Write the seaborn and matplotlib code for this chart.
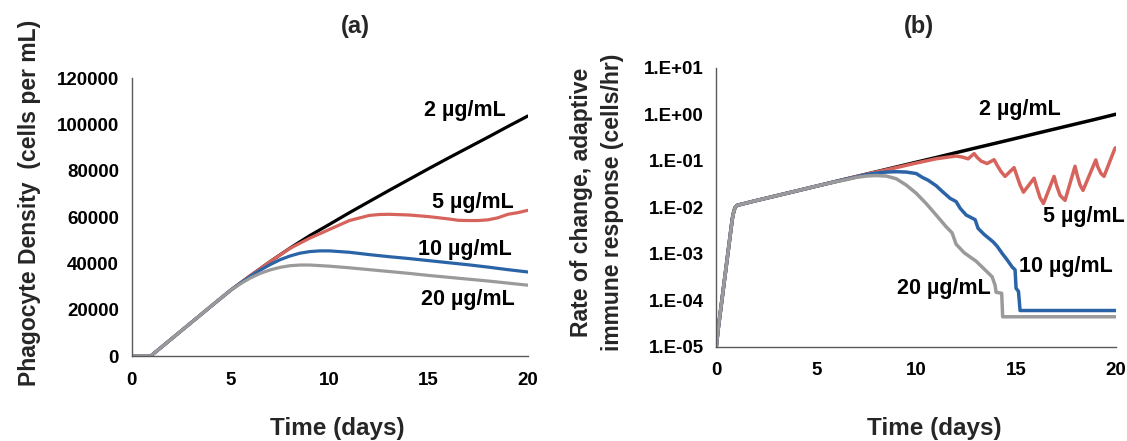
import matplotlib
matplotlib.use("Agg")
import matplotlib.pyplot as plt
from matplotlib.ticker import FixedLocator, FuncFormatter, NullLocator
import numpy as np
import pandas as pd
import seaborn as sns

# ---------------- data ----------------
concentrations = ["2 µg/mL", "5 µg/mL", "10 µg/mL", "20 µg/mL"]
line_colors = ["#000000", "#d6645d", "#2b64a6", "#9a9a9a"]

# (a) phagocyte density (cells per mL)
days_a_2 = [0, 0.95, 1, 2, 3, 4, 5, 6, 7, 8, 9, 10, 11, 12, 13, 14, 15, 16, 17, 18, 19, 20]
dens_a_2 = [0, 0, 350, 7400, 14450, 21500, 28500, 34800, 40900, 46700, 52100, 57000,
            62000, 66800, 71600, 76300, 81000, 85600, 90100, 94600, 99200, 103700]

days_a_5 = [0, 0.95, 1, 2, 3, 4, 5, 6, 7, 8, 9, 10, 11, 12, 12.5, 13, 14, 15, 16,
            16.5, 17, 17.5, 18, 18.5, 19, 19.5, 20]
dens_a_5 = [0, 0, 350, 7400, 14450, 21500, 28500, 34800, 40900, 46600, 51000, 54800,
            58600, 60800, 61200, 61300, 61000, 60300, 59300, 58700, 58600, 58600,
            58900, 59800, 61300, 62000, 63000]

days_a_10 = [0, 0.95, 1, 2, 3, 4, 5, 5.5, 6, 6.5, 7, 7.5, 8, 8.5, 9, 9.5, 10, 11, 12,
             13, 14, 15, 16, 17, 18, 19, 20]
dens_a_10 = [0, 0, 350, 7400, 14450, 21500, 28500, 31600, 34500, 37200, 39600, 41700,
             43300, 44500, 45200, 45500, 45500, 44900, 43900, 43000, 42200, 41300,
             40400, 39500, 38500, 37400, 36400]

days_a_20 = [0, 0.95, 1, 2, 3, 4, 5, 5.5, 6, 6.5, 7, 7.5, 8, 8.5, 9, 10, 11, 12, 13,
             14, 15, 16, 17, 18, 19, 20]
dens_a_20 = [0, 0, 350, 7400, 14450, 21500, 28500, 31300, 33800, 35800, 37300, 38400,
             39100, 39400, 39400, 38900, 38200, 37400, 36600, 35800, 34900, 34100,
             33300, 32500, 31600, 30700]

# (b) rate of change of the adaptive immune response (cells/hr)
days_b_2 = [0, 0.1, 0.8, 0.88, 0.95, 1.05, 2, 3, 4, 5, 6, 7, 8, 9, 10, 11, 12, 13,
            14, 15, 16, 17, 18, 19, 20]
rate_b_2 = [1.0e-5, 2.5e-5, 5.6e-3, 8.3e-3, 1.0e-2, 1.1e-2, 0.0139, 0.0176, 0.0223,
            0.0283, 0.0359, 0.0455, 0.0577, 0.0731, 0.0927, 0.117, 0.149, 0.189,
            0.239, 0.303, 0.385, 0.488, 0.618, 0.783, 1.0]

days_b_5 = [0, 0.1, 0.8, 0.88, 0.95, 1.05, 2, 3, 4, 5, 6, 7, 8, 9, 10, 11, 11.5, 12,
            12.3, 12.6, 12.9, 13.05, 13.25, 13.55, 13.9, 14.05, 14.25, 14.45, 14.9,
            15.02, 15.2, 15.37, 15.9, 16.02, 16.2, 16.37, 16.9, 17.02, 17.2, 17.45,
            17.95, 18.05, 18.2, 18.35, 18.99, 19.08, 19.25, 19.4, 19.95, 20]
rate_b_5 = [1.0e-5, 2.5e-5, 5.6e-3, 8.3e-3, 1.0e-2, 1.1e-2, 0.0139, 0.0176, 0.0223,
            0.0283, 0.0359, 0.0455, 0.0570, 0.071, 0.089, 0.110, 0.118, 0.126,
            0.120, 0.110, 0.142, 0.118, 0.098, 0.087, 0.105, 0.080, 0.058, 0.046,
            0.071, 0.050, 0.030, 0.021, 0.042, 0.028, 0.016, 0.012, 0.046, 0.030,
            0.018, 0.014, 0.076, 0.050, 0.030, 0.023, 0.104, 0.075, 0.053, 0.046,
            0.186, 0.19]

days_b_10 = [0, 0.1, 0.8, 0.88, 0.95, 1.05, 2, 3, 4, 5, 6, 7, 7.5, 8, 8.5, 9, 9.5,
             10, 10.3, 10.6, 11, 11.3, 11.7, 12, 12.2, 12.5, 12.95, 13.1, 13.4,
             13.85, 14.05, 14.3, 14.55, 14.8, 14.95, 15.0, 15.12, 15.2, 20]
rate_b_10 = [1.0e-5, 2.5e-5, 5.6e-3, 8.3e-3, 1.0e-2, 1.1e-2, 0.0139, 0.0176, 0.0223,
             0.0283, 0.0359, 0.0447, 0.050, 0.054, 0.057, 0.058, 0.057, 0.053,
             0.044, 0.038, 0.029, 0.022, 0.0155, 0.0132, 0.0095, 0.0068, 0.0054,
             0.0035, 0.0026, 0.0018, 0.00145, 0.00102, 0.00074, 0.00052, 0.00045,
             0.00018, 0.000155, 6.0e-5, 6.0e-5]

days_b_20 = [0, 0.1, 0.8, 0.88, 0.95, 1.05, 2, 3, 4, 5, 6, 6.5, 7, 7.5, 8, 8.5, 9,
             9.5, 10, 10.5, 11, 11.5, 11.8, 12, 12.4, 13, 13.4, 13.8, 13.95, 14.0,
             14.28, 14.33, 20]
rate_b_20 = [1.0e-5, 2.5e-5, 5.6e-3, 8.3e-3, 1.0e-2, 1.1e-2, 0.0139, 0.0176, 0.0223,
             0.0283, 0.0355, 0.039, 0.0437, 0.0468, 0.048, 0.0468, 0.041, 0.030,
             0.020, 0.012, 0.0068, 0.0038, 0.0028, 0.0016, 0.00105, 0.00069,
             0.00047, 0.00032, 0.00021, 0.000148, 0.000141, 4.4e-5, 4.4e-5]

# label anchors (data coordinates)
label_pos_a = [(16.85, 106300), (17.25, 66400), (16.85, 46000), (17.0, 24400)]
label_pos_b = [(15.2, 1.26), (18.4, 0.0063), (17.5, 5.2e-4), (11.4, 1.8e-4)]

x_ticks = [0, 5, 10, 15, 20]
y_ticks_a = [0, 20000, 40000, 60000, 80000, 100000, 120000]
y_ticks_b = [1e-5, 1e-4, 1e-3, 1e-2, 1e-1, 1e0, 1e1]

# ---------------- tables ----------------
df_a = pd.concat([
    pd.DataFrame({"day": d, "value": v, "conc": c})
    for d, v, c in zip([days_a_2, days_a_5, days_a_10, days_a_20],
                       [dens_a_2, dens_a_5, dens_a_10, dens_a_20], concentrations)
], ignore_index=True)
df_b = pd.concat([
    pd.DataFrame({"day": d, "value": v, "conc": c})
    for d, v, c in zip([days_b_2, days_b_5, days_b_10, days_b_20],
                       [rate_b_2, rate_b_5, rate_b_10, rate_b_20], concentrations)
], ignore_index=True)

# ---------------- style ----------------
sns.set_theme(style="white")
plt.rcParams["font.family"] = ["Liberation Sans", "DejaVu Sans"]
plt.rcParams["font.weight"] = "bold"

W, H = 1127, 441
fig = plt.figure(figsize=(W / 100, H / 100), dpi=100)
ax_a = fig.add_axes([131.5 / W, (H - 356.3) / H, (527.7 - 131.5) / W, (356.3 - 78.3) / H])
ax_b = fig.add_axes([716.3 / W, (H - 346.7) / H, (1116.0 - 716.3) / W, (346.7 - 67.7) / H])

palette = dict(zip(concentrations, line_colors))
# lowest dose first so the 20 µg/mL curve sits on top along the shared part
draw_order = ["2 µg/mL", "5 µg/mL", "10 µg/mL", "20 µg/mL"]

for ax, df, lw in [(ax_a, df_a, 2.3), (ax_b, df_b, 2.5)]:
    for c in draw_order:
        sns.lineplot(data=df[df["conc"] == c], x="day", y="value", color=palette[c],
                     linewidth=lw, estimator=None, sort=False, ax=ax, legend=False)
    ax.set_xlabel("")
    ax.set_ylabel("")
    ax.set_xlim(0, 20)
    ax.xaxis.set_major_locator(FixedLocator(x_ticks))
    for side in ["top", "right"]:
        ax.spines[side].set_visible(False)
    for side in ["left", "bottom"]:
        ax.spines[side].set_color("#595959")
        ax.spines[side].set_linewidth(1.0)
    ax.tick_params(axis="both", which="major", direction="out", length=4, width=1,
                   color="#595959", labelsize=13.5, labelcolor="black")
    ax.tick_params(axis="x", pad=7)
    ax.tick_params(axis="y", pad=5)
    ax.grid(False)

# panel (a)
ax_a.set_ylim(0, 120000)
ax_a.yaxis.set_major_locator(FixedLocator(y_ticks_a))
ax_a.yaxis.set_major_formatter(FuncFormatter(lambda v, p: f"{int(v)}"))

# panel (b)
ax_b.set_yscale("log")
ax_b.set_ylim(1e-5, 1e1)
ax_b.yaxis.set_major_locator(FixedLocator(y_ticks_b))
ax_b.yaxis.set_minor_locator(NullLocator())
ax_b.yaxis.set_major_formatter(
    FuncFormatter(lambda v, p: "1.E{:+03d}".format(int(round(np.log10(v))))))

for ax in (ax_a, ax_b):
    for lab in ax.get_xticklabels() + ax.get_yticklabels():
        lab.set_fontweight("bold")

# series labels
for ax, positions in [(ax_a, label_pos_a), (ax_b, label_pos_b)]:
    for text, (x, y) in zip(concentrations, positions):
        ax.text(x, y, text, ha="center", va="center", fontsize=15.5,
                fontweight="bold", color="black")

# titles and axis labels
fig.text(355 / W, 1 - 26 / H, "(a)", ha="center", va="center", fontsize=17, fontweight="bold")
fig.text(919 / W, 1 - 26 / H, "(b)", ha="center", va="center", fontsize=17, fontweight="bold")
fig.text(337 / W, 1 - 428 / H, "Time (days)", ha="center", va="center", fontsize=17.5, fontweight="bold")
fig.text(934 / W, 1 - 428 / H, "Time (days)", ha="center", va="center", fontsize=17.5, fontweight="bold")
fig.text(30 / W, 1 - 203 / H, "Phagocyte Density  (cells per mL)", rotation=90,
         ha="center", va="center", fontsize=16.5, fontweight="bold")
fig.text(597 / W, 1 - 202 / H, "Rate of change, adaptive\nimmune response (cells/hr)",
         rotation=90, ha="center", va="center", multialignment="center",
         linespacing=1.4, fontsize=16.5, fontweight="bold")

fig.savefig("out.png", dpi=100, facecolor="white")
